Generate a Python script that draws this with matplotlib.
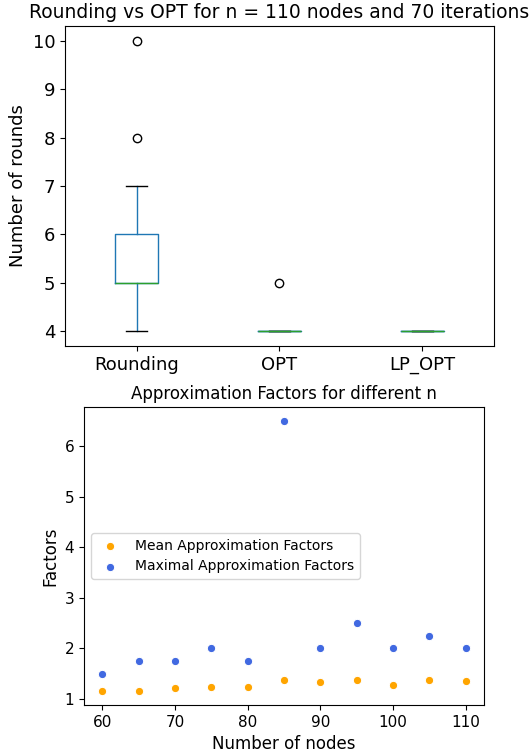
import numpy as np
import pandas as pd
import matplotlib
matplotlib.use("Agg")
import matplotlib.pyplot as plt

# rounds per iteration (value -> how many of the 70 iterations)
round_values = [4, 5, 6, 7, 8, 10]
rounding_counts = [10, 30, 20, 8, 1, 1]
opt_values = [4, 5]
opt_counts = [69, 1]
lp_opt_values = [4]
lp_opt_counts = [70]

nodes = [60, 65, 70, 75, 80, 85, 90, 95, 100, 105, 110]
mean_factors = [1.15, 1.16, 1.21, 1.235, 1.23, 1.385, 1.34, 1.37, 1.27, 1.38, 1.365]
max_factors = [1.5, 1.75, 1.75, 2.0, 1.75, 6.5, 2.0, 2.5, 2.0, 2.25, 2.0]

df = pd.DataFrame({
    "Rounding": np.repeat(round_values, rounding_counts),
    "OPT": np.repeat(opt_values, opt_counts),
    "LP_OPT": np.repeat(lp_opt_values, lp_opt_counts),
})

fig = plt.figure(figsize=(5.32, 7.52), dpi=100)
ax1 = fig.add_axes([65/532, 1 - 346/752, 429/532, 320/752])
ax2 = fig.add_axes([84/532, 1 - 705/752, 400/532, 298/752])

box_colors = dict(boxes="C0", whiskers="C0", medians="C2", caps="k")
df.plot(kind="box", ax=ax1, fontsize=13, color=box_colors)
ax1.set_title("Rounding vs OPT for n = 110 nodes and 70 iterations", fontsize=13.5)
ax1.set_ylabel("Number of rounds", fontsize=13)

ax2.scatter(nodes, mean_factors, color="orange", s=36, edgecolor="white",
            linewidth=0.75, label="Mean Approximation Factors")
ax2.scatter(nodes, max_factors, color="royalblue", s=36, edgecolor="white",
            linewidth=0.75, label="Maximal Approximation Factors")
ax2.set_title("Approximation Factors for different n", fontsize=12)
ax2.set_xlabel("Number of nodes", fontsize=12)
ax2.set_ylabel("Factors", fontsize=12)
ax2.tick_params(labelsize=11)
ax2.legend(loc="center left", fontsize=10)

fig.savefig("out.png", dpi=100)
